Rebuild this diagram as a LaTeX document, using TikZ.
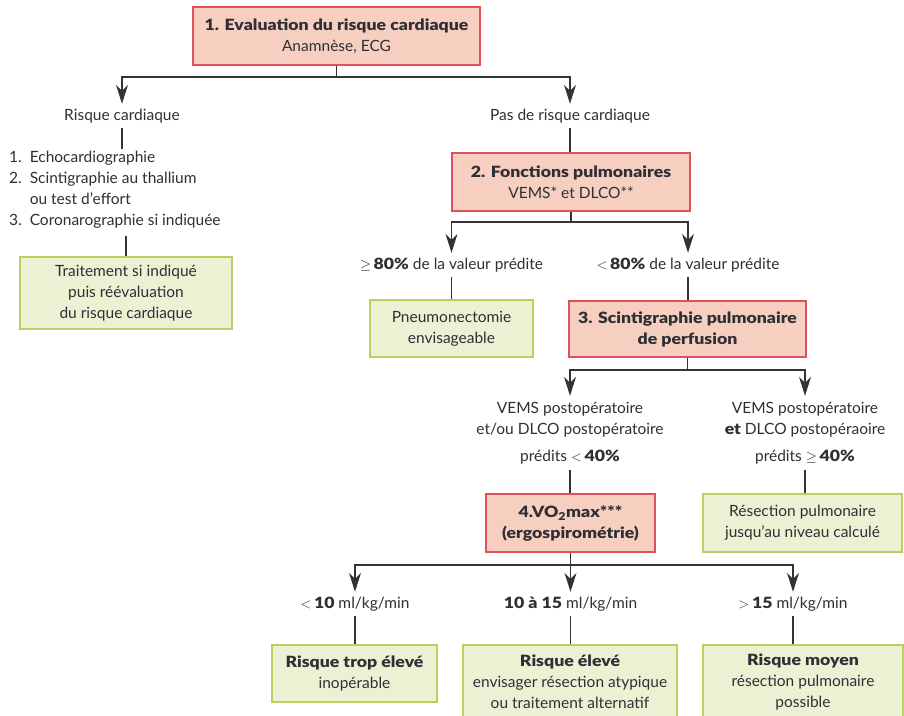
\documentclass[tikz,border=0pt]{standalone}
\usepackage{fontspec}
\setmainfont{Lato}[BoldFont={Lato Black},BoldFeatures={FakeStretch=1.14}]
\usetikzlibrary{arrows.meta}
\definecolor{boxred}{HTML}{E0505A}
\definecolor{boxpink}{HTML}{F6CFC1}
\definecolor{boxgreen}{HTML}{B9CF5E}
\definecolor{boxlgreen}{HTML}{EDF1D4}
\definecolor{txt}{HTML}{2F2F35}
\definecolor{linecol}{HTML}{333333}
\begin{document}
\begin{tikzpicture}[x=1pt,y=-1pt,
  font=\fontsize{15.5}{21}\selectfont, text=txt,
  redbox/.style={draw=boxred, fill=boxpink, line width=1.3pt, align=center, inner sep=0pt},
  greenbox/.style={draw=boxgreen, fill=boxlgreen, line width=1.3pt, align=center, inner sep=0pt},
  lbl/.style={align=center, inner xsep=2pt, inner ysep=5pt, text height=11pt, text depth=3pt},
  mlbl/.style={align=center, inner xsep=2pt, inner ysep=6pt},
  conn/.style={draw=linecol, line width=1.5pt},
  arr/.style={conn, -{Stealth[length=19pt,width=12pt,inset=6pt]}}]
\useasboundingbox[fill=white] (0,0) rectangle (904,715);

% level 1
\node[redbox, minimum width=287pt, minimum height=58pt] (b1) at (336.5,36)
  {\textbf{1. Evaluation du risque cardiaque}\\Anamnèse, ECG};
\coordinate (j1) at (336.5,77);
\node[lbl] (rc) at (122,116) {Risque cardiaque};
\node[lbl] (prc) at (570,116) {Pas de risque cardiaque};
\draw[conn] (b1.south) -- (j1);
\draw[arr] (j1) -| (rc.north);
\draw[arr] (j1) -| (prc.north);

% left branch
\coordinate (ltop) at (122,149);
\node[anchor=west, inner xsep=0pt, inner ysep=0pt] (lst) at (9,190)
  {\begin{tabular}{@{}l@{\ \ }l@{}}1. & Echocardiographie\\ 2. & Scintigraphie au thallium\\ & ou test d'effort\\ 3. & Coronarographie si indiquée\end{tabular}};
\coordinate (lbot) at (126,236);
\node[greenbox, minimum width=212pt, minimum height=72pt] (g1) at (126,293)
  {Traitement si indiqué\\puis réévaluation\\du risque cardiaque};
\draw[conn] (rc.south) -- (ltop);
\draw[conn] (lbot) -- (g1.north);

% level 2
\node[redbox, minimum width=238pt, minimum height=58pt] (b2) at (571,182)
  {\textbf{2. Fonctions pulmonaires}\\VEMS* et DLCO**};
\draw[conn] (prc.south) -- (prc.south |- b2.north);
\coordinate (j2) at (571,222);
\node[lbl] (ge80) at (451.5,265) {$\geq$\,\textbf{80\%} de la valeur prédite};
\node[lbl] (lt80) at (688,265) {$<$\,\textbf{80\%} de la valeur prédite};
\draw[conn] (b2.south) -- (j2);
\draw[arr] (j2) -| (ge80.north);
\draw[arr] (j2) -| (lt80.north);
\node[greenbox, minimum width=163pt, minimum height=57pt] (pn) at (451.5,328.5)
  {Pneumonectomie\\envisageable};
\node[redbox, minimum width=237pt, minimum height=56pt] (b3) at (687.5,329)
  {\textbf{3. Scintigraphie pulmonaire}\\\textbf{de perfusion}};
\draw[conn] (ge80.south) -- (ge80.south |- pn.north);
\draw[conn] (lt80.south) -- (lt80.south |- b3.north);

% level 3
\coordinate (j3) at (687.5,370);
\node[mlbl] (vl) at (570,433)
  {VEMS postopératoire\\et/ou DLCO postopératoire\\[6pt]prédits $<$\,\textbf{40\%}};
\node[mlbl] (vr) at (805,433)
  {VEMS postopératoire\\\textbf{et} DLCO postopéraoire\\[6pt]prédits $\geq$\,\textbf{40\%}};
\draw[conn] (b3.south) -- (j3);
\draw[arr] (j3) -| (vl.north);
\draw[arr] (j3) -| (vr.north);
\node[redbox, minimum width=169pt, minimum height=58pt] (b4) at (570.5,523)
  {\textbf{4.VO\textsubscript{2}max***}\\\textbf{(ergospirométrie)}};
\node[greenbox, minimum width=199pt, minimum height=58pt] (rs) at (802.5,523)
  {Résection pulmonaire\\jusqu'au niveau calculé};
\draw[conn] (vl.south) -- (vl.south |- b4.north);
\draw[conn] (vr.south) -- (vr.south |- rs.north);

% level 4
\coordinate (j4) at (570.5,565);
\node[lbl] (la) at (355,604) {$<$\,\textbf{10} ml/kg/min};
\node[lbl] (lb2) at (570.5,604) {\textbf{10 à 15} ml/kg/min};
\node[lbl] (lc) at (793,604) {$>$\,\textbf{15} ml/kg/min};
\draw[conn] (b4.south) -- (j4);
\draw[arr] (j4) -| (la.north);
\draw[arr] (j4) -- (lb2.north);
\draw[arr] (j4) -| (lc.north);
\node[greenbox, minimum width=165pt, minimum height=57pt] (ra) at (354.5,673.5)
  {\textbf{Risque trop élevé}\\inopérable};
\node[greenbox, minimum width=214pt, minimum height=74pt] (rb) at (570,682)
  {\textbf{Risque élevé}\\envisager résection atypique\\ou traitement alternatif};
\node[greenbox, minimum width=200pt, minimum height=74pt] (rcb) at (803,682)
  {\textbf{Risque moyen}\\résection pulmonaire\\possible};
\draw[conn] (la.south) -- (la.south |- ra.north);
\draw[conn] (lb2.south) -- (lb2.south |- rb.north);
\draw[conn] (lc.south) -- (lc.south |- rcb.north);
\end{tikzpicture}
\end{document}
